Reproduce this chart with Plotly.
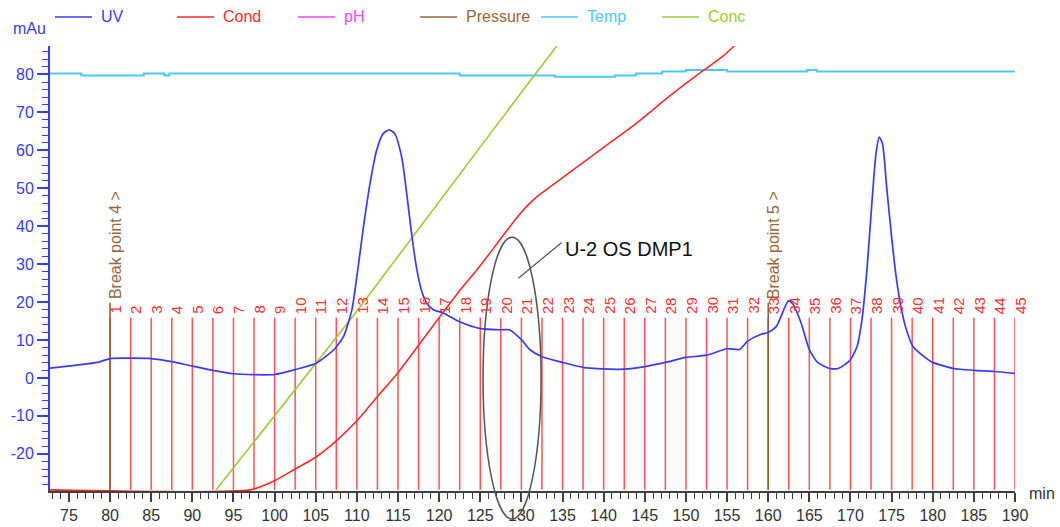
import plotly.graph_objects as go

# ---- chromatogram data -------------------------------------------------
uv_time = [72.7, 76.0, 78.5, 80.0, 82.5, 85.0, 87.5, 90.0, 92.5, 95.0, 97.5, 100.0,
           102.5, 105.0, 106.2, 107.4, 108.4, 109.4, 110.0, 110.8, 111.6, 112.4, 113.2,
           113.95, 114.6, 115.45, 116.06, 116.7, 117.3, 117.9, 118.5, 119.3, 120.5,
           122.5, 125.0, 127.5, 128.5, 130.0, 131.0, 132.5, 135.0, 137.5, 140.0, 142.5,
           145.0, 147.5, 150.0, 152.5, 155.0, 156.5, 157.5, 159.0, 160.0, 161.0, 162.45,
           163.0, 164.0, 165.0, 166.0, 167.5, 168.5, 169.3, 170.0, 170.8, 171.4, 172.0,
           172.6, 173.1, 173.5, 173.9, 174.4, 175.0, 175.6, 176.2, 176.8, 177.6, 178.9,
           180.0, 182.5, 185.0, 187.5, 190.0]
uv_mau = [2.6, 3.4, 4.1, 5.1, 5.2, 5.1, 4.3, 3.1, 2.0, 1.1, 0.85, 0.9,
          2.2, 3.8, 5.6, 7.9, 11.0, 18.0, 26.7, 39.8, 51.2, 60.0, 64.4,
          65.4, 64.4, 58.2, 48.6, 37.2, 28.5, 22.8, 19.7, 18.0, 17.1,
          14.8, 13.0, 12.7, 12.7, 10.1, 7.5, 5.6, 4.1, 2.8, 2.4, 2.3,
          3.0, 4.1, 5.4, 6.0, 7.7, 7.5, 9.7, 11.4, 12.0, 13.6, 20.3,
          19.5, 14.5, 7.5, 4.1, 2.5, 2.5, 3.5, 4.8, 8.3, 15.4, 28.5,
          46.0, 59.1, 63.5, 61.7, 50.3, 37.2, 25.9, 18.0, 12.7, 8.3, 5.7,
          4.1, 2.5, 2.0, 1.7, 1.2]

cond_time = [72.7, 97.0, 100.0, 102.5, 105.0, 107.5, 110.0, 112.5, 115.0, 117.5, 120.0,
             122.5, 124.6, 127.0, 129.2, 130.5, 131.8, 133.2, 136.0, 140.0, 144.0,
             148.07, 152.08, 154.55, 155.85]
cond_val = [-29.5, -29.5, -27.1, -24.0, -20.9, -16.6, -11.3, -4.9, 1.4, 8.6, 15.9,
            23.0, 28.5, 35.3, 41.6, 44.9, 47.6, 49.9, 54.4, 60.8, 67.2,
            74.4, 81.0, 84.9, 87.5]

temp_time = [72.7, 76.5, 84.1, 86.6, 87.2, 122.5, 134.1, 141.4, 143.9, 147.1, 150.0,
             155.0, 164.7, 165.9, 190.0]
temp_val = [80.26, 79.7, 80.26, 79.7, 80.26, 79.7, 79.4, 79.7, 80.26, 80.8, 81.15,
            80.8, 81.15, 80.8, 80.8]

conc_time = [92.9, 105.0, 109.5, 131.05, 134.3]
conc_val = [-29.5, 3.7, 16.2, 78.3, 87.5]

# fraction marks (min) and event marks
fraction_time = [80.0, 82.5, 85.0, 87.5, 90.0, 92.5, 95.0, 97.5, 100.0, 102.5,
                 105.0, 107.5, 110.0, 112.5, 115.0, 117.5, 120.0, 122.5, 125.0, 127.5,
                 130.0, 132.5, 135.0, 137.5, 140.0, 142.5, 145.0, 147.5, 150.0, 152.5,
                 155.0, 157.5, 160.0, 162.5, 165.0, 167.5, 170.0, 172.5, 175.0, 177.5,
                 180.0, 182.5, 185.0, 187.5, 190.0]
fraction_label = [str(i + 1) for i in range(len(fraction_time))]
break_time = [80.0, 160.0]
break_label = ["Break point 4 >", "Break point 5 >"]

x_range = [72.7, 190.0]
y_range = [-29.8, 87.5]
y_ticks = [-20, -10, 0, 10, 20, 30, 40, 50, 60, 70, 80]

FONT = "Liberation Sans, Arial, sans-serif"
BLUE = "#3a3aff"
RED = "#ff2a2a"
FRAC_RED = "rgba(255,40,40,0.8)"
MAGENTA = "#ff44ff"
BROWN = "#9a6638"
CYAN = "#4cc8ff"
GREEN = "#9acd32"

ML, MR, MT, MB = 50, 45, 46, 36
W, H = 1060, 527
PW, PH = W - ML - MR, H - MT - MB


def px(xp):
    return (xp - ML) / PW


def py(yp):
    return (H - MB - yp) / PH


fig = go.Figure()

# fraction collector marks
fx, fy = [], []
for t in fraction_time:
    fx += [t, t, None]
    fy += [-29.5, 15.9, None]
fig.add_trace(go.Scatter(x=fx, y=fy, mode="lines", line=dict(color=FRAC_RED, width=1.5),
                         hoverinfo="skip", showlegend=False))

# method break points
bx, by = [], []
for t in break_time:
    bx += [t, t, None]
    by += [-29.5, 19.8, None]
fig.add_trace(go.Scatter(x=bx, y=by, mode="lines", line=dict(color="#8b5a2b", width=1.5),
                         hoverinfo="skip", showlegend=False))

fig.add_trace(go.Scatter(x=temp_time, y=temp_val, name="Temp", mode="lines",
                         line=dict(color=CYAN, width=2, shape="hv"), showlegend=False))
fig.add_trace(go.Scatter(x=conc_time, y=conc_val, name="Conc", mode="lines",
                         line=dict(color=GREEN, width=1.6), showlegend=False))
fig.add_trace(go.Scatter(x=cond_time, y=cond_val, name="Cond", mode="lines",
                         line=dict(color=RED, width=1.6, shape="spline", smoothing=0.6),
                         showlegend=False))
fig.add_trace(go.Scatter(x=uv_time, y=uv_mau, name="UV", mode="lines",
                         line=dict(color=BLUE, width=1.7, shape="spline", smoothing=0.6),
                         showlegend=False))

annotations = []
for t, lab in zip(fraction_time, fraction_label):
    annotations.append(dict(x=t, y=16.6, xref="x", yref="y", text=lab, showarrow=False,
                            textangle=-90, xanchor="left", yanchor="bottom", xshift=-4,
                            borderpad=0, font=dict(family=FONT, size=15, color="#ff3030")))
for t, lab in zip(break_time, break_label):
    annotations.append(dict(x=t, y=20.4, xref="x", yref="y", text=lab, showarrow=False,
                            textangle=-90, xanchor="left", yanchor="bottom", xshift=-4,
                            borderpad=0, font=dict(family=FONT, size=16, color=BROWN)))

# peak annotation
annotations.append(dict(x=135.05, y=33.9, xref="x", yref="y", text="U-2 OS DMP1",
                        showarrow=False, xanchor="left", yanchor="middle",
                        font=dict(family=FONT, size=20, color="#111111")))

# unit labels
annotations.append(dict(x=px(48), y=py(29), xref="paper", yref="paper", text="mAu",
                        showarrow=False, xanchor="right", yanchor="middle",
                        font=dict(family=FONT, size=16, color=BLUE)))
annotations.append(dict(x=px(1027), y=py(493), xref="paper", yref="paper", text="min",
                        showarrow=False, xanchor="left", yanchor="middle",
                        font=dict(family=FONT, size=16, color="#333333")))

# legend row
legend_items = [("UV", BLUE, 55), ("Cond", RED, 177), ("pH", MAGENTA, 298),
                ("Pressure", BROWN, 420), ("Temp", CYAN, 541), ("Conc", GREEN, 662)]
shapes = []
for name, col, x0 in legend_items:
    shapes.append(dict(type="line", xref="paper", yref="paper", x0=px(x0), x1=px(x0 + 37),
                       y0=py(17), y1=py(17), line=dict(color=col, width=1.5)))
    annotations.append(dict(x=px(x0 + 44), y=py(17), xref="paper", yref="paper", text=name,
                            showarrow=False, xanchor="left", yanchor="middle",
                            font=dict(family=FONT, size=16, color=col)))

# ellipse around the peak of interest
span = y_range[1] - y_range[0]
shapes.append(dict(type="circle", xref="x", yref="paper", x0=125.34, x1=132.39,
                   y0=(-37.2 - y_range[0]) / span, y1=(37.1 - y_range[0]) / span,
                   line=dict(color="#555555", width=1.5)))
shapes.append(dict(type="line", xref="x", yref="y", x0=129.63, y0=26.3, x1=134.9, y1=35.7,
                   line=dict(color="#555555", width=1.2)))

fig.update_layout(
    width=W, height=H,
    margin=dict(l=ML, r=MR, t=MT, b=MB, pad=0, autoexpand=False),
    paper_bgcolor="white", plot_bgcolor="white",
    showlegend=False,
    font=dict(family=FONT, size=16),
    annotations=annotations,
    shapes=shapes,
    xaxis=dict(range=x_range, showgrid=False, zeroline=False, showline=True,
               automargin=False,
               linecolor="#404040", linewidth=1.5, ticks="outside", ticklen=9,
               tickwidth=1.5, tickcolor="#404040", dtick=5, tick0=0,
               tickfont=dict(family=FONT, size=16, color="#333333"),
               minor=dict(dtick=1, ticklen=6, tickwidth=1, tickcolor="#404040",
                          ticks="outside", showgrid=False)),
    yaxis=dict(range=y_range, showgrid=False, zeroline=False, showline=True,
               automargin=False,
               linecolor=BLUE, linewidth=2, ticks="outside", ticklen=11, tickwidth=1.5,
               tickcolor=BLUE, tickvals=y_ticks, ticktext=[str(v) for v in y_ticks],
               tickfont=dict(family=FONT, size=16, color=BLUE),
               minor=dict(tickvals=[v for v in range(-28, 88, 2) if v % 10 != 0],
                          ticklen=6, tickwidth=1, tickcolor=BLUE, ticks="outside",
                          showgrid=False)),
)

fig.write_html("out.html")
